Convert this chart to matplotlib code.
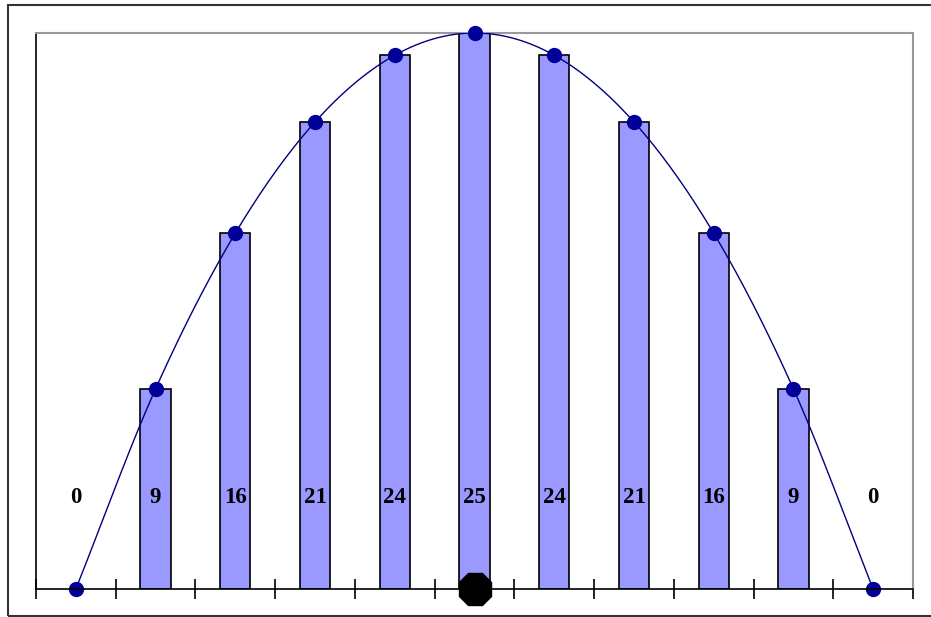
import numpy as np
import matplotlib
matplotlib.use("Agg")
import matplotlib.pyplot as plt
from matplotlib.patches import Rectangle

# data
categories = list(range(11))
values = [0, 9, 16, 21, 24, 25, 24, 21, 16, 9, 0]
labels = ["0", "9", "16", "21", "24", "25", "24", "21", "16", "9", "0"]
highlight_index = 5
label_y = 4.1

W, H = 931, 617
fig = plt.figure(figsize=(W / 100, H / 100), dpi=100)
fig.patch.set_facecolor("white")

# outer frame
fig.patches.append(Rectangle((8 / W, 1.5 / H), 1.2, (H - 4.5 - 1.5) / H,
                             transform=fig.transFigure, fill=False,
                             edgecolor="#333333", linewidth=1.5, clip_on=False))

ax = fig.add_axes([36 / W, (H - 589) / H, (913 - 36) / W, (589 - 33) / H])

x = np.array(categories, dtype=float)
y = np.array(values, dtype=float)

# bars (skip zero values)
bx = [c for c, v in zip(categories, values) if v > 0]
bv = [v for v in values if v > 0]
ax.bar(bx, bv, width=0.38, color="#9999FF", edgecolor="black", linewidth=1.2, zorder=2)

# smooth curve (Catmull-Rom through points)
pts = np.column_stack([x, y])
ext = np.vstack([2 * pts[0] - pts[1], pts, 2 * pts[-1] - pts[-2]])
curve = []
for i in range(1, len(ext) - 2):
    p0, p1, p2, p3 = ext[i - 1], ext[i], ext[i + 1], ext[i + 2]
    t = np.linspace(0, 1, 30)[:, None]
    seg = 0.5 * ((2 * p1) + (-p0 + p2) * t + (2 * p0 - 5 * p1 + 4 * p2 - p3) * t ** 2
                 + (-p0 + 3 * p1 - 3 * p2 + p3) * t ** 3)
    curve.append(seg)
curve = np.vstack(curve)
ax.plot(curve[:, 0], curve[:, 1], color="#000080", linewidth=1.0, zorder=3)
ax.plot(x, y, linestyle="none", marker="o", markersize=10, color="#000099", zorder=4, clip_on=False)

# highlight octagon
ax.plot([categories[highlight_index]], [0], marker="8", markersize=25.5, color="black",
        linestyle="none", zorder=5, clip_on=False)

for c, lab in zip(categories, labels):
    ax.text(c, label_y, lab, ha="center", va="center", fontsize=16.5,
            fontweight="bold", family="Liberation Serif", zorder=6)

ax.set_xlim(-0.5, 10.5)
ax.set_ylim(0, 25)
ax.set_yticks([])
ax.set_xticks(np.arange(-0.5, 11, 1.0))
ax.set_xticklabels([])
ax.tick_params(axis="x", direction="inout", length=15, width=1.2, color="black")
ax.spines["bottom"].set_color("black")
ax.spines["bottom"].set_linewidth(1.2)
ax.spines["bottom"].set_zorder(4)
ax.spines["left"].set_color("black")
ax.spines["left"].set_linewidth(1.2)
for s in ("top", "right"):
    ax.spines[s].set_color("#999999")
    ax.spines[s].set_linewidth(1.5)

fig.savefig("out.png", dpi=100, facecolor="white")
